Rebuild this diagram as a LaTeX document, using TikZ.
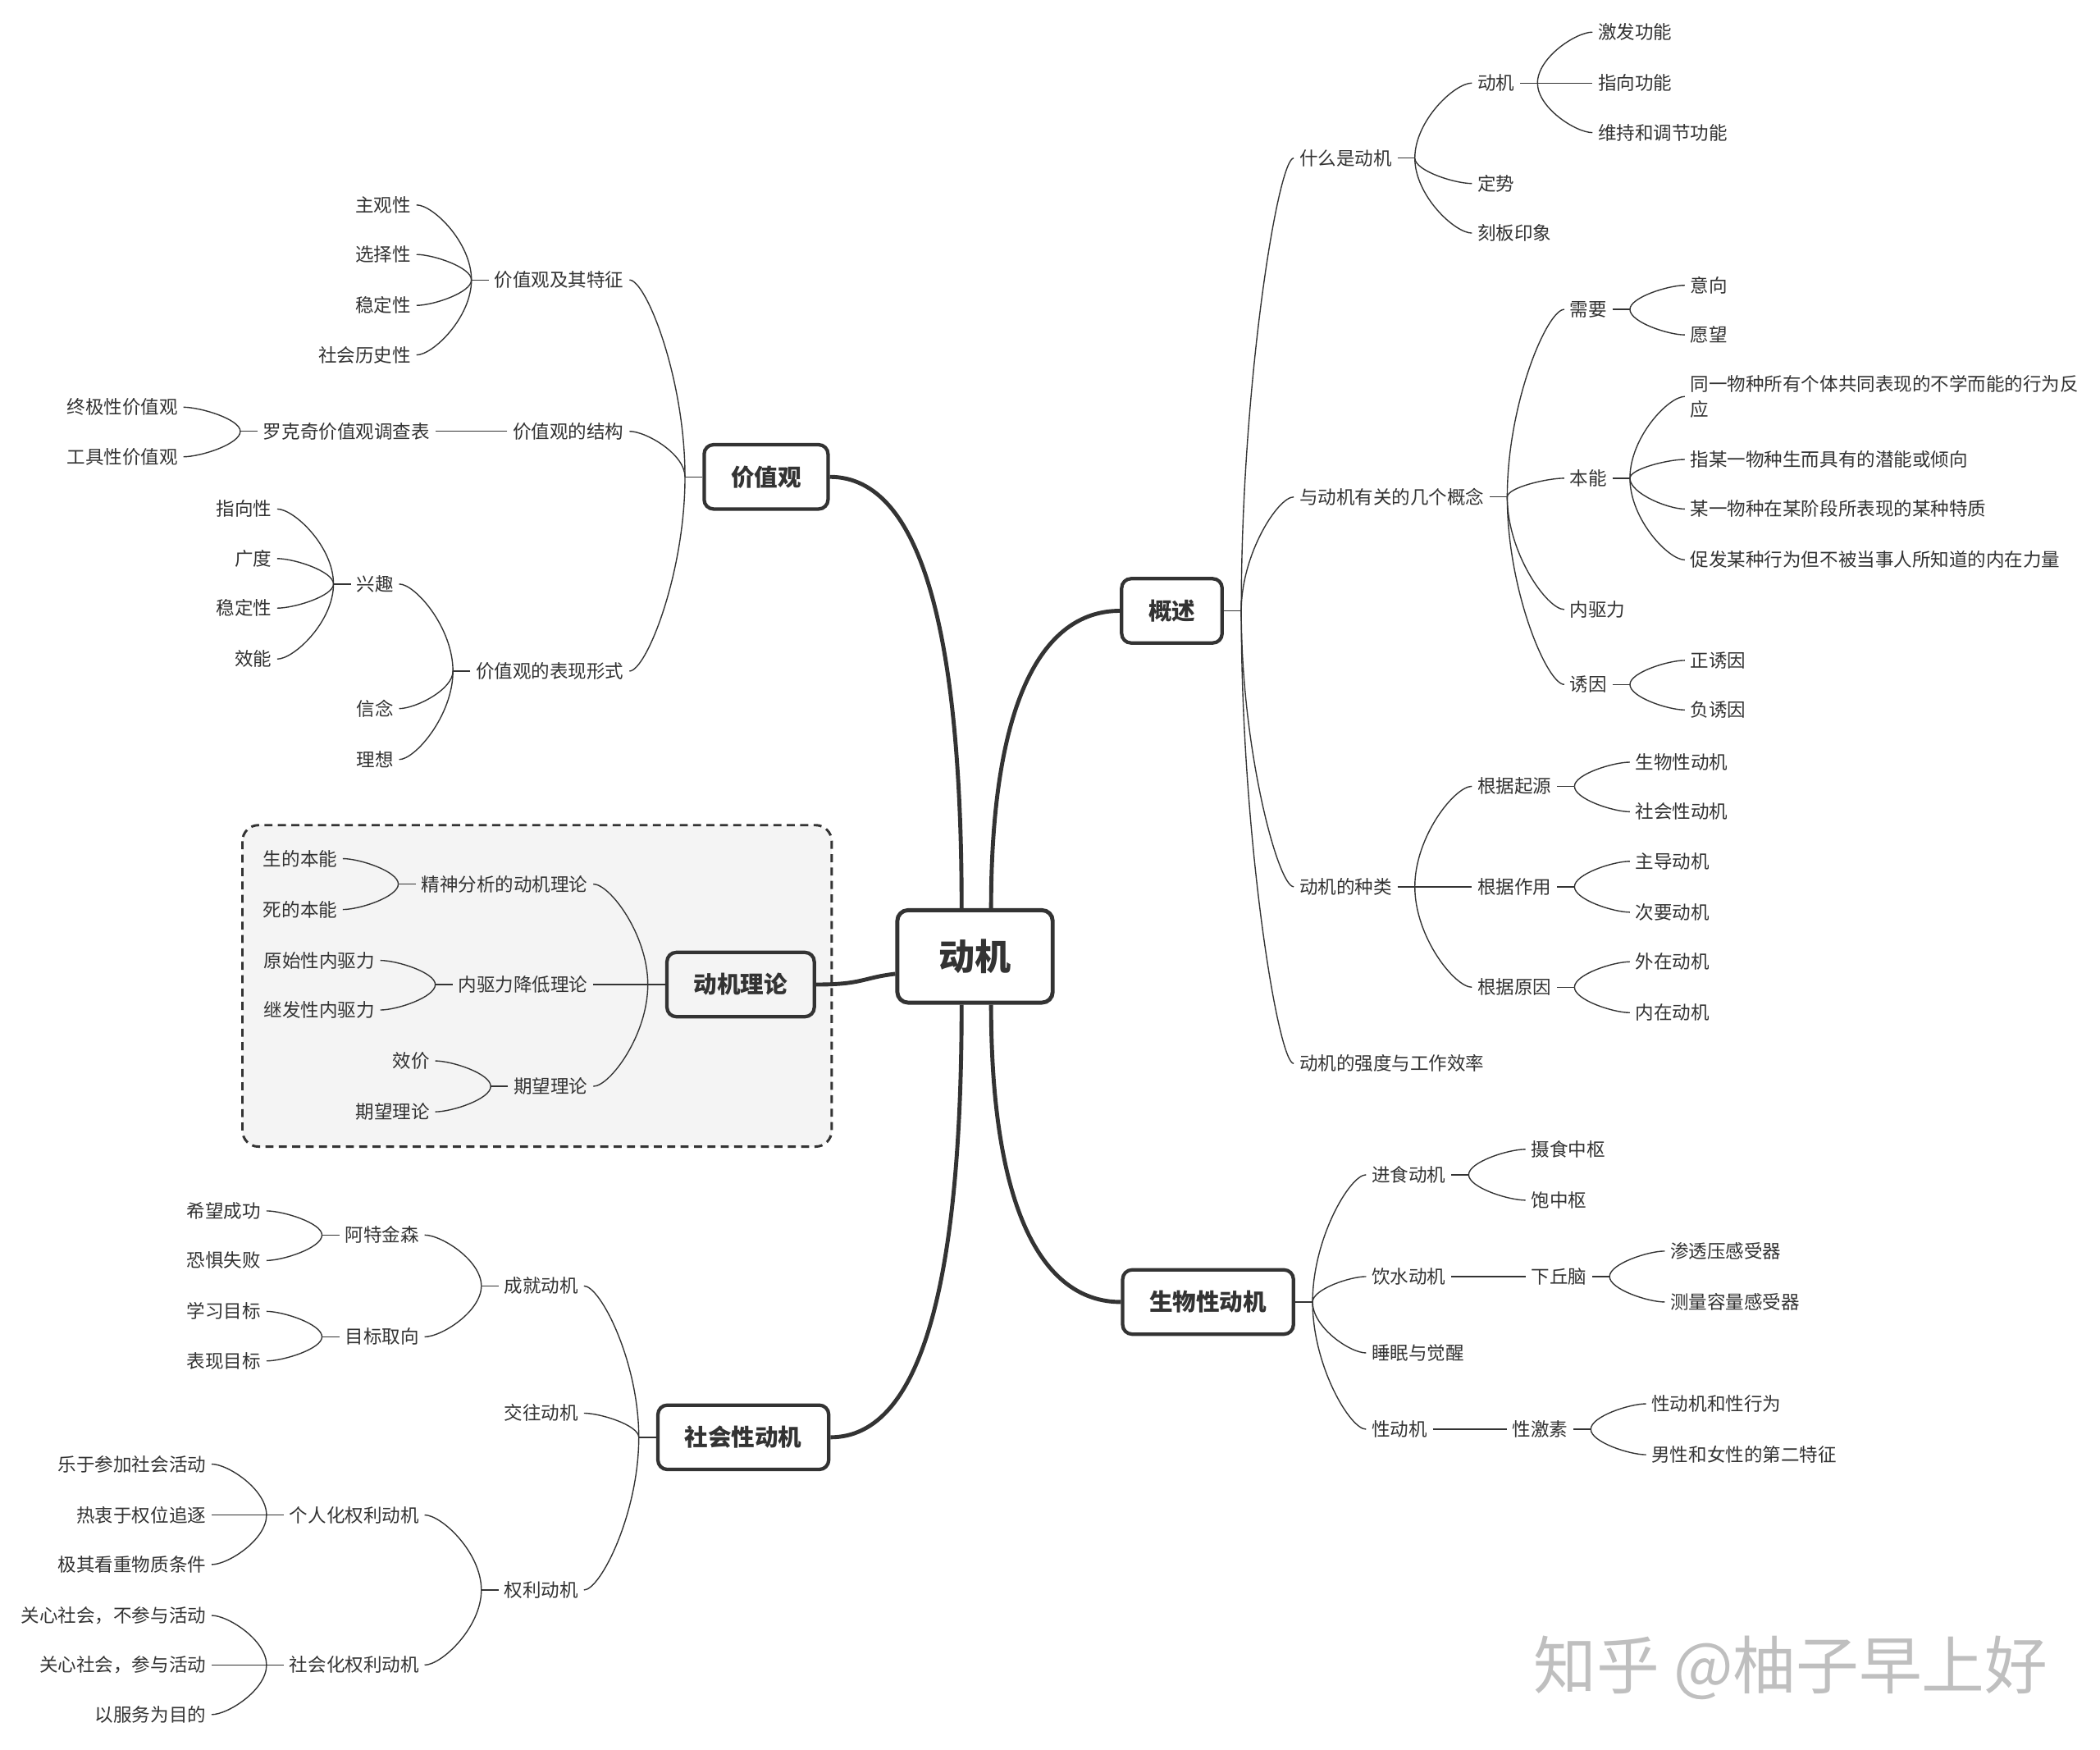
\documentclass[tikz,border=0pt]{standalone}
\usepackage{fontspec}
\usetikzlibrary{calc}
\setmainfont{Noto Sans CJK SC}
\definecolor{ink}{HTML}{333333}
\definecolor{boxgray}{HTML}{F4F4F4}
\newcommand\mmHubR[2]{\coordinate (#2) at ([xshift=13pt]#1.east); \draw[br] (#1.east) -- (#2);}
\newcommand\mmHubL[2]{\coordinate (#2) at ([xshift=-13pt]#1.west); \draw[br] (#1.west) -- (#2);}
\newcommand\mmBrR[2]{\draw[br] (#1) .. controls ($(#1)!0.5!(#1 |- #2.west)$) and ($(#2.west)!0.3!(#1 |- #2.west)$) .. (#2.west);}
\newcommand\mmBrL[2]{\draw[br] (#1) .. controls ($(#1)!0.5!(#1 |- #2.east)$) and ($(#2.east)!0.3!(#1 |- #2.east)$) .. (#2.east);}
\tikzset{
  txt/.style={font=\fontsize{13.8}{19}\selectfont, text=ink, inner xsep=4pt, inner ysep=2pt, text height=12.1pt, text depth=1.7pt},
  rt/.style={txt, anchor=west},
  lt/.style={txt, anchor=east},
  rttwo/.style={font=\fontsize{13.8}{19}\selectfont, text=ink, inner xsep=4pt, inner ysep=2pt, anchor=west, align=left},
  lone/.style={draw=ink, line width=2.6pt, rounded corners=7pt, fill=white, font=\bfseries\fontsize{17.5}{20}\selectfont, text=ink, inner xsep=20pt, minimum height=48pt, text height=15.4pt, text depth=2.1pt},
  mainbox/.style={draw=ink, line width=3pt, rounded corners=8pt, fill=white, font=\bfseries\fontsize{27}{30}\selectfont, text=ink, inner xsep=31pt, minimum height=69pt, text height=23.8pt, text depth=3.2pt},
  br/.style={draw=ink, line width=0.85pt},
  trunk/.style={draw=ink, line width=3pt},
  wm/.style={font=\fontsize{47}{50}\selectfont, text=black!25},
}
\begin{document}
\begin{tikzpicture}[x=1pt,y=-1pt]
\useasboundingbox (0,0) rectangle (1568,1306);
\fill[white] (0,0) rectangle (1568,1306);
% dashed frame around the theory branch
\draw[draw=ink, line width=1.8pt, dash pattern=on 6pt off 4pt, rounded corners=12pt, fill=boxgray] (181,616) rectangle (621,856);

% main and level-1
\node[mainbox] (m) at (728,714) {动机};
\node[lone] (gs) at (875,456) {概述};
\node[lone] (sw) at (902,972) {生物性动机};
\node[lone] (jz) at (572,356) {价值观};
\node[lone, fill=boxgray] (ll) at (553,735) {动机理论};
\node[lone] (sh) at (555,1073) {社会性动机};

\draw[trunk] ([xshift=-10pt]m.north) .. controls +(0,-200) and +(70,0) .. (jz.east);
\draw[trunk] ([xshift=12pt]m.north) .. controls +(0,-150) and +(-60,0) .. (gs.west);
\draw[trunk] ([xshift=12pt]m.south) .. controls +(0,150) and +(-60,0) .. (sw.west);
\draw[trunk] ([xshift=-10pt]m.south) .. controls +(0,200) and +(70,0) .. (sh.east);
\draw[trunk] (ll.east) .. controls +(35,0) and +(-25,3) .. ([yshift=-13pt]m.west);

% ===== 概述 =====
\node[rt] (a1) at (966,118) {什么是动机};
\node[rt] (a2) at (966,371) {与动机有关的几个概念};
\node[rt] (a3) at (966,662) {动机的种类};
\node[rt] (a4) at (966,794) {动机的强度与工作效率};
\mmHubR{gs}{hgs}
\mmBrR{hgs}{a1}\mmBrR{hgs}{a2}\mmBrR{hgs}{a3}\mmBrR{hgs}{a4}

\node[rt] (b1) at (1099,62) {动机};
\node[rt] (b2) at (1099,137) {定势};
\node[rt] (b3) at (1099,174) {刻板印象};
\mmHubR{a1}{ha1}
\mmBrR{ha1}{b1}\mmBrR{ha1}{b2}\mmBrR{ha1}{b3}

\node[rt] (c1) at (1189,24) {激发功能};
\node[rt] (c2) at (1189,62) {指向功能};
\node[rt] (c3) at (1189,99) {维持和调节功能};
\mmHubR{b1}{hb1}
\mmBrR{hb1}{c1}\mmBrR{hb1}{c2}\mmBrR{hb1}{c3}

\node[rt] (d1) at (1168,231) {需要};
\node[rt] (d2) at (1168,357) {本能};
\node[rt] (d3) at (1168,455) {内驱力};
\node[rt] (d4) at (1168,511) {诱因};
\mmHubR{a2}{ha2}
\mmBrR{ha2}{d1}\mmBrR{ha2}{d2}\mmBrR{ha2}{d3}\mmBrR{ha2}{d4}

\node[rt] (e1) at (1258,213) {意向};
\node[rt] (e2) at (1258,250) {愿望};
\mmHubR{d1}{hd1}
\mmBrR{hd1}{e1}\mmBrR{hd1}{e2}

\node[rttwo] (f1) at (1258,296) {同一物种所有个体共同表现的不学而能的行为反\\应};
\node[rt] (f2) at (1258,343) {指某一物种生而具有的潜能或倾向};
\node[rt] (f3) at (1258,380) {某一物种在某阶段所表现的某种特质};
\node[rt] (f4) at (1258,418) {促发某种行为但不被当事人所知道的内在力量};
\mmHubR{d2}{hd2}
\mmBrR{hd2}{f1}\mmBrR{hd2}{f2}\mmBrR{hd2}{f3}\mmBrR{hd2}{f4}

\node[rt] (g1) at (1258,493) {正诱因};
\node[rt] (g2) at (1258,530) {负诱因};
\mmHubR{d4}{hd4}
\mmBrR{hd4}{g1}\mmBrR{hd4}{g2}

\node[rt] (h1) at (1099,587) {根据起源};
\node[rt] (h2) at (1099,662) {根据作用};
\node[rt] (h3) at (1099,737) {根据原因};
\mmHubR{a3}{ha3}
\mmBrR{ha3}{h1}\mmBrR{ha3}{h2}\mmBrR{ha3}{h3}

\node[rt] (i1) at (1217,569) {生物性动机};
\node[rt] (i2) at (1217,606) {社会性动机};
\node[rt] (i3) at (1217,643) {主导动机};
\node[rt] (i4) at (1217,681) {次要动机};
\node[rt] (i5) at (1217,718) {外在动机};
\node[rt] (i6) at (1217,756) {内在动机};
\mmHubR{h1}{hh1}\mmBrR{hh1}{i1}\mmBrR{hh1}{i2}
\mmHubR{h2}{hh2}\mmBrR{hh2}{i3}\mmBrR{hh2}{i4}
\mmHubR{h3}{hh3}\mmBrR{hh3}{i5}\mmBrR{hh3}{i6}

% ===== 生物性动机 =====
\node[rt] (j1) at (1020,877) {进食动机};
\node[rt] (j2) at (1020,953) {饮水动机};
\node[rt] (j3) at (1020,1010) {睡眠与觉醒};
\node[rt] (j4) at (1020,1067) {性动机};
\mmHubR{sw}{hsw}
\mmBrR{hsw}{j1}\mmBrR{hsw}{j2}\mmBrR{hsw}{j3}\mmBrR{hsw}{j4}

\node[rt] (k1) at (1139,858) {摄食中枢};
\node[rt] (k2) at (1139,896) {饱中枢};
\mmHubR{j1}{hj1}\mmBrR{hj1}{k1}\mmBrR{hj1}{k2}

\node[rt] (k3) at (1139,953) {下丘脑};
\mmHubR{j2}{hj2}\mmBrR{hj2}{k3}
\node[rt] (l1n) at (1243,934) {渗透压感受器};
\node[rt] (l2n) at (1243,972) {测量容量感受器};
\mmHubR{k3}{hk3}\mmBrR{hk3}{l1n}\mmBrR{hk3}{l2n}

\node[rt] (k4) at (1125,1067) {性激素};
\mmHubR{j4}{hj4}\mmBrR{hj4}{k4}
\node[rt] (m1) at (1229,1048) {性动机和性行为};
\node[rt] (m2) at (1229,1086) {男性和女性的第二特征};
\mmHubR{k4}{hk4}\mmBrR{hk4}{m1}\mmBrR{hk4}{m2}

% ===== 价值观 =====
\node[lt] (n1) at (470,209) {价值观及其特征};
\node[lt] (n2) at (470,322) {价值观的结构};
\node[lt] (n3) at (470,501) {价值观的表现形式};
\mmHubL{jz}{hjz}
\mmBrL{hjz}{n1}\mmBrL{hjz}{n2}\mmBrL{hjz}{n3}

\node[lt] (o1) at (311,153) {主观性};
\node[lt] (o2) at (311,190) {选择性};
\node[lt] (o3) at (311,228) {稳定性};
\node[lt] (o4) at (311,265) {社会历史性};
\mmHubL{n1}{hn1}
\mmBrL{hn1}{o1}\mmBrL{hn1}{o2}\mmBrL{hn1}{o3}\mmBrL{hn1}{o4}

\node[lt] (p1) at (325,322) {罗克奇价值观调查表};
\mmHubL{n2}{hn2}\mmBrL{hn2}{p1}
\node[lt] (p2) at (137,304) {终极性价值观};
\node[lt] (p3) at (137,341) {工具性价值观};
\mmHubL{p1}{hp1}\mmBrL{hp1}{p2}\mmBrL{hp1}{p3}

\node[lt] (q1) at (298,436) {兴趣};
\node[lt] (q2) at (298,529) {信念};
\node[lt] (q3) at (298,567) {理想};
\mmHubL{n3}{hn3}
\mmBrL{hn3}{q1}\mmBrL{hn3}{q2}\mmBrL{hn3}{q3}

\node[lt] (r1) at (207,380) {指向性};
\node[lt] (r2) at (207,417) {广度};
\node[lt] (r3) at (207,454) {稳定性};
\node[lt] (r4) at (207,492) {效能};
\mmHubL{q1}{hq1}
\mmBrL{hq1}{r1}\mmBrL{hq1}{r2}\mmBrL{hq1}{r3}\mmBrL{hq1}{r4}

% ===== 动机理论 =====
\node[lt] (s1) at (443,660) {精神分析的动机理论};
\node[lt] (s2) at (443,735) {内驱力降低理论};
\node[lt] (s3) at (443,811) {期望理论};
\mmHubL{ll}{hll}
\mmBrL{hll}{s1}\mmBrL{hll}{s2}\mmBrL{hll}{s3}

\node[lt] (t1) at (256,641) {生的本能};
\node[lt] (t2) at (256,679) {死的本能};
\mmHubL{s1}{hs1}\mmBrL{hs1}{t1}\mmBrL{hs1}{t2}
\node[lt] (t3) at (284,717) {原始性内驱力};
\node[lt] (t4) at (284,754) {继发性内驱力};
\mmHubL{s2}{hs2}\mmBrL{hs2}{t3}\mmBrL{hs2}{t4}
\node[lt] (t5) at (325,792) {效价};
\node[lt] (t6) at (325,830) {期望理论};
\mmHubL{s3}{hs3}\mmBrL{hs3}{t5}\mmBrL{hs3}{t6}

% ===== 社会性动机 =====
\node[lt] (u1) at (436,960) {成就动机};
\node[lt] (u2) at (436,1055) {交往动机};
\node[lt] (u3) at (436,1187) {权利动机};
\mmHubL{sh}{hsh}
\mmBrL{hsh}{u1}\mmBrL{hsh}{u2}\mmBrL{hsh}{u3}

\node[lt] (v1) at (317,922) {阿特金森};
\node[lt] (v2) at (317,998) {目标取向};
\mmHubL{u1}{hu1}\mmBrL{hu1}{v1}\mmBrL{hu1}{v2}

\node[lt] (w1) at (199,904) {希望成功};
\node[lt] (w2) at (199,941) {恐惧失败};
\mmHubL{v1}{hv1}\mmBrL{hv1}{w1}\mmBrL{hv1}{w2}
\node[lt] (w3) at (199,979) {学习目标};
\node[lt] (w4) at (199,1016) {表现目标};
\mmHubL{v2}{hv2}\mmBrL{hv2}{w3}\mmBrL{hv2}{w4}

\node[lt] (x1) at (317,1131) {个人化权利动机};
\node[lt] (x2) at (317,1243) {社会化权利动机};
\mmHubL{u3}{hu3}\mmBrL{hu3}{x1}\mmBrL{hu3}{x2}

\node[lt] (y1) at (158,1093) {乐于参加社会活动};
\node[lt] (y2) at (158,1131) {热衷于权位追逐};
\node[lt] (y3) at (158,1168) {极其看重物质条件};
\mmHubL{x1}{hx1}\mmBrL{hx1}{y1}\mmBrL{hx1}{y2}\mmBrL{hx1}{y3}
\node[lt] (y4) at (158,1206) {关心社会，不参与活动};
\node[lt] (y5) at (158,1243) {关心社会，参与活动};
\node[lt] (y6) at (158,1280) {以服务为目的};
\mmHubL{x2}{hx2}\mmBrL{hx2}{y4}\mmBrL{hx2}{y5}\mmBrL{hx2}{y6}

% watermark
\node[wm] (wmk) at (1337,1245) {知乎 @柚子早上好};
\end{tikzpicture}
\end{document}
